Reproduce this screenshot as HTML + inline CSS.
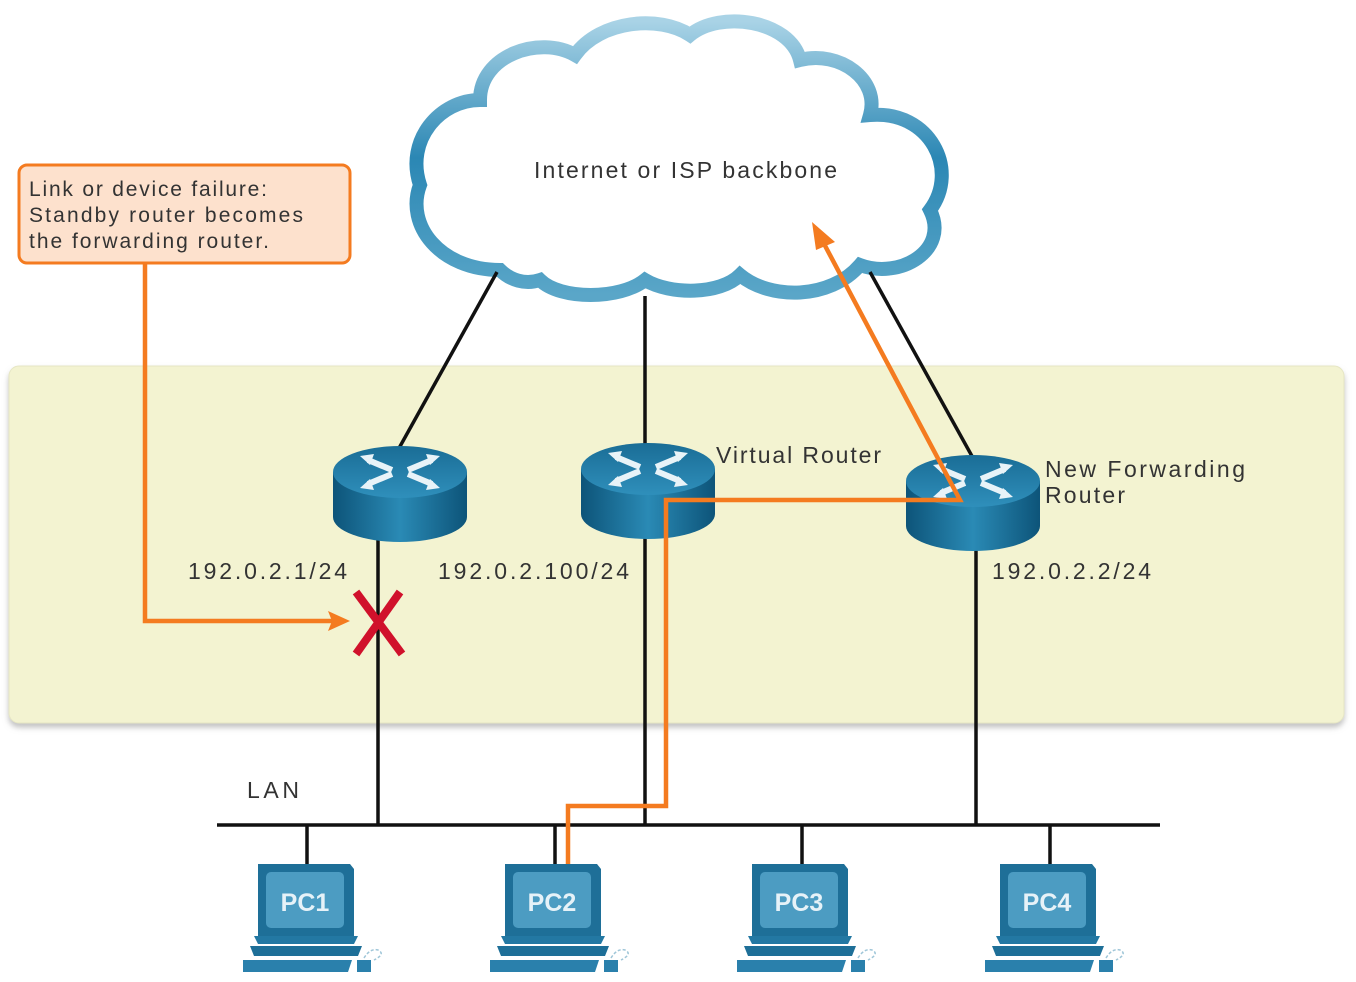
<!DOCTYPE html>
<html><head><style>
body{margin:0;background:#fff;}
svg{display:block;font-family:"Liberation Sans",sans-serif;}
</style></head><body>
<svg width="1356" height="982" viewBox="0 0 1356 982" xmlns="http://www.w3.org/2000/svg">
<defs>
<linearGradient id="cl" x1="0" y1="0" x2="0" y2="1">
<stop offset="0" stop-color="#a9d3e6"/><stop offset="0.5" stop-color="#2b87b4"/><stop offset="1" stop-color="#5aa6c8"/>
</linearGradient>
<linearGradient id="rb" x1="0" y1="0" x2="1" y2="0">
<stop offset="0" stop-color="#0d5479"/><stop offset="0.5" stop-color="#2a8ab5"/><stop offset="1" stop-color="#0d5479"/>
</linearGradient>
<linearGradient id="rt" x1="0" y1="0" x2="0" y2="1">
<stop offset="0" stop-color="#1a6d96"/><stop offset="1" stop-color="#2f8fbb"/>
</linearGradient>
<filter id="sh" x="-5%" y="-5%" width="110%" height="115%"><feDropShadow dx="0" dy="4" stdDeviation="3" flood-color="#999" flood-opacity="0.6"/></filter>
<g id="router">
<path d="M-67 0 L-67 45 A67 25 0 0 0 67 45 L67 0 Z" fill="url(#rb)"/>
<ellipse cx="0" cy="0" rx="67" ry="26" fill="url(#rt)"/>
<g stroke="#e8f3f8" stroke-width="6" fill="none">
<path d="M-32 -12 L-8 -2"/><path d="M32 -12 L8 -2"/><path d="M-32 12 L-8 2"/><path d="M32 12 L8 2"/>
</g>
<g fill="#e8f3f8">
<path d="M-40 -16 L-26 -18 L-30 -7Z"/><path d="M40 -16 L26 -18 L30 -7Z"/>
<path d="M-40 16 L-26 18 L-30 7Z"/><path d="M40 16 L26 18 L30 7Z"/>
</g>
</g>
<g id="pc">
<path d="M0 0 L92 0 L96 5 L96 72 L0 72Z" fill="#1e6f98"/>
<rect x="8" y="8" width="78" height="56" rx="5" fill="#4c9cc2"/>
<path d="M-4 72 L100 72 L96 80 L0 80Z" fill="#2378a3"/>
<path d="M-8 82 L104 82 L100 92 L-4 92Z" fill="#1e6f98"/>
<path d="M-15 96 L94 96 L90 108 L-15 108Z" fill="#2a80ac"/>
<rect x="99" y="96" width="14" height="12" fill="#2a80ac"/>
<path d="M106 94 q6 -10 14 -8 q8 4 -4 10" stroke="#9fc6d8" stroke-width="1.5" fill="none" stroke-dasharray="3 2"/>
</g>
</defs>

<rect x="9" y="366" width="1335" height="357" rx="10" fill="#f3f3d1" stroke="#e6e6c4" filter="url(#sh)"/>

<path d="M500 270 C440 270 405 225 420 185 C405 140 440 100 480 100 C480 55 540 35 575 55 C600 20 660 15 690 35 C720 10 790 20 800 60 C840 50 880 80 870 115 C930 110 960 170 930 210 C950 250 900 280 860 265 C830 300 770 300 740 275 C720 295 670 295 645 280 C620 300 560 300 540 280 C525 285 510 280 500 270Z" fill="#fff" stroke="url(#cl)" stroke-width="14"/>
<text x="534" y="178" font-size="23" fill="#333" textLength="303" lengthAdjust="spacing">Internet or ISP backbone</text>

<g stroke="#111" stroke-width="3.5" fill="none">
<path d="M497 272 L398 450"/><path d="M645 296 L645 446"/><path d="M870 272 L973 458"/>
<path d="M378 540 L378 826"/><path d="M645 535 L645 826"/><path d="M976 550 L976 826"/>
<path d="M217 825 L1160 825"/>
<path d="M307 825 L307 864"/><path d="M555 825 L555 864"/><path d="M802 825 L802 864"/><path d="M1050 825 L1050 864"/>
</g>

<use href="#router" x="400" y="472"/>
<use href="#router" x="648" y="469"/>
<use href="#router" x="973" y="481"/>

<g stroke="#f47b20" stroke-width="4.5" fill="none">
<path d="M568 864 L568 806 L666 806 L666 500 L960 500 L822 240"/>
<path d="M145 263 L145 621 L335 621"/>
</g>
<path d="M812 222 L835 242 L816 250Z" fill="#f47b20"/>
<path d="M350 621 L328 611 L332 621 L328 631Z" fill="#f47b20"/>

<g stroke="#d0112b" stroke-width="8"><path d="M356 592 L402 654"/><path d="M400 592 L356 654"/></g>

<rect x="19" y="165" width="331" height="98" rx="8" fill="#fde1cd" stroke="#f47b20" stroke-width="3"/>
<g font-size="21" fill="#333">
<text x="29" y="196" textLength="238" lengthAdjust="spacing">Link or device failure:</text>
<text x="29" y="222" textLength="274" lengthAdjust="spacing">Standby router becomes</text>
<text x="29" y="248" textLength="240" lengthAdjust="spacing">the forwarding router.</text>
</g>

<g font-size="23" fill="#333">
<text x="716" y="463" textLength="165" lengthAdjust="spacing">Virtual Router</text>
<text x="1045" y="477" textLength="200" lengthAdjust="spacing">New Forwarding</text>
<text x="1045" y="503" textLength="80" lengthAdjust="spacing">Router</text>
<text x="188" y="579" textLength="159" lengthAdjust="spacing">192.0.2.1/24</text>
<text x="438" y="579" textLength="191" lengthAdjust="spacing">192.0.2.100/24</text>
<text x="992" y="579" textLength="159" lengthAdjust="spacing">192.0.2.2/24</text>
<text x="247" y="798" textLength="52" lengthAdjust="spacing">LAN</text>
</g>

<use href="#pc" x="258" y="864"/>
<use href="#pc" x="505" y="864"/>
<use href="#pc" x="752" y="864"/>
<use href="#pc" x="1000" y="864"/>
<g font-size="25" font-weight="bold" fill="#e6f2f8" text-anchor="middle">
<text x="305" y="911">PC1</text><text x="552" y="911">PC2</text><text x="799" y="911">PC3</text><text x="1047" y="911">PC4</text>
</g>
</svg>
</body></html>
